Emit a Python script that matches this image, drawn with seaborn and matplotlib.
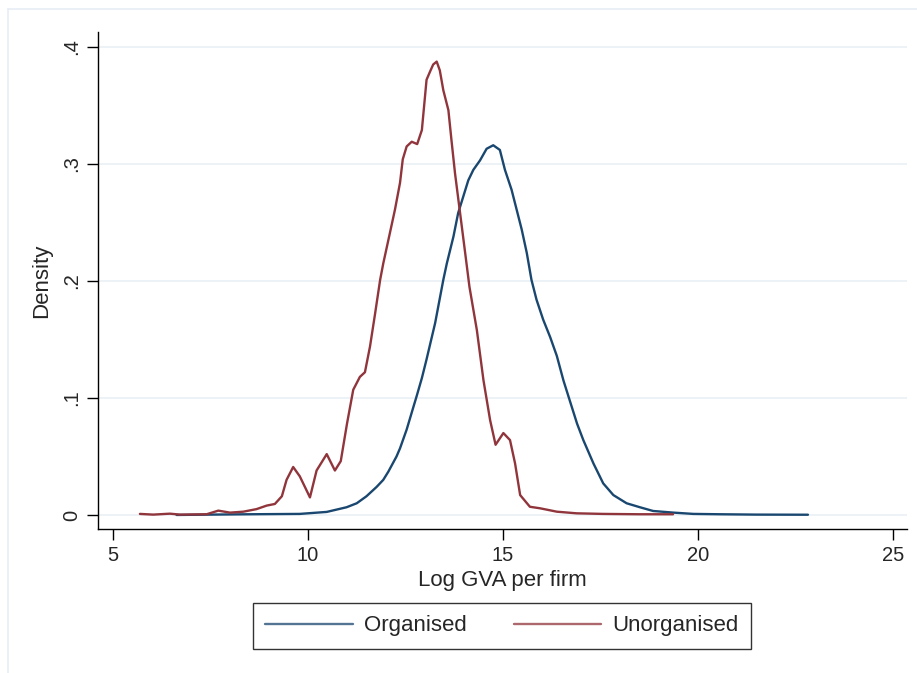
import numpy as np
import pandas as pd
import matplotlib
matplotlib.use("Agg")
import matplotlib.pyplot as plt
import seaborn as sns
from matplotlib.lines import Line2D

# ---- data ----
series_names = ["Organised", "Unorganised"]

organised_x = [6.63, 7.50, 8.50, 9.79, 10.48, 10.99, 11.25, 11.50, 11.76, 11.93,
               12.06, 12.27, 12.36, 12.53, 12.70, 12.79, 12.92, 13.04, 13.26, 13.47,
               13.56, 13.73, 13.85, 13.98, 14.11, 14.24, 14.41, 14.58, 14.75, 14.92,
               15.05, 15.22, 15.35, 15.48, 15.61, 15.73, 15.86, 16.03, 16.21, 16.38,
               16.55, 16.72, 16.90, 17.06, 17.32, 17.57, 17.83, 18.17, 18.51, 18.85,
               19.37, 19.88, 20.56, 21.50, 22.82]
organised_y = [0.0000, 0.0003, 0.0006, 0.0009, 0.0026, 0.0066, 0.0100, 0.0160, 0.0240, 0.0300,
               0.0370, 0.0500, 0.0570, 0.0730, 0.0920, 0.1020, 0.1170, 0.1330, 0.1640, 0.2010,
               0.2150, 0.2380, 0.2580, 0.2720, 0.2860, 0.2950, 0.3030, 0.3130, 0.3160, 0.3120,
               0.2950, 0.2780, 0.2610, 0.2440, 0.2240, 0.2010, 0.1840, 0.1670, 0.1520, 0.1360,
               0.1150, 0.0970, 0.0780, 0.0640, 0.0440, 0.0270, 0.0170, 0.0100, 0.0066, 0.0034,
               0.0020, 0.0009, 0.0006, 0.0003, 0.0002]

unorganised_x = [5.69, 6.03, 6.46, 6.72, 7.40, 7.70, 8.00, 8.34, 8.68, 8.94,
                 9.15, 9.33, 9.45, 9.62, 9.79, 10.05, 10.22, 10.48, 10.69, 10.84,
                 11.00, 11.16, 11.33, 11.46, 11.59, 11.72, 11.85, 11.93, 12.10, 12.23,
                 12.36, 12.43, 12.53, 12.66, 12.80, 12.92, 13.04, 13.13, 13.21, 13.30,
                 13.38, 13.47, 13.60, 13.68, 13.77, 13.90, 14.03, 14.14, 14.33, 14.50,
                 14.67, 14.81, 14.91, 15.01, 15.18, 15.31, 15.44, 15.69, 15.95, 16.38,
                 16.89, 17.56, 18.50, 19.36]
unorganised_y = [0.0009, 0.0003, 0.0011, 0.0003, 0.0006, 0.0037, 0.0020, 0.0028, 0.0050, 0.0080,
                 0.0094, 0.0160, 0.0300, 0.0410, 0.0330, 0.0150, 0.0380, 0.0520, 0.0380, 0.0460,
                 0.0780, 0.1070, 0.1180, 0.1220, 0.1440, 0.1720, 0.2010, 0.2150, 0.2410, 0.2610,
                 0.2840, 0.3040, 0.3150, 0.3190, 0.3170, 0.3290, 0.3720, 0.3790, 0.3850, 0.3875,
                 0.3800, 0.3630, 0.3460, 0.3200, 0.2920, 0.2580, 0.2240, 0.1950, 0.1580, 0.1150,
                 0.0810, 0.0600, 0.0650, 0.0700, 0.0640, 0.0440, 0.0170, 0.0070, 0.0057, 0.0028,
                 0.0014, 0.0009, 0.0006, 0.0006]

x_ticks = [5, 10, 15, 20, 25]
y_ticks = [0, 0.1, 0.2, 0.3, 0.4]
y_tick_labels = ["0", ".1", ".2", ".3", ".4"]

df = pd.concat([
    pd.DataFrame({"x": organised_x, "y": organised_y, "group": series_names[0]}),
    pd.DataFrame({"x": unorganised_x, "y": unorganised_y, "group": series_names[1]}),
], ignore_index=True)

colors = {"Organised": "#1a476f", "Unorganised": "#90353b"}

sns.set_style("white")
plt.rcParams["font.family"] = ["Liberation Sans", "DejaVu Sans"]

fig = plt.figure(figsize=(9.17, 6.73), dpi=100)
fig.patch.set_facecolor("white")
ax = fig.add_axes([98 / 917, 1 - 529 / 673, (907 - 98) / 917, (529 - 32) / 673])

sns.lineplot(data=df, x="x", y="y", hue="group", palette=colors, sort=False,
             estimator=None, linewidth=1.7, ax=ax, legend=False)

ax.set_xlim(4.615, 25.36)
ax.set_ylim(-0.012, 0.4128)
ax.set_xticks(x_ticks)
ax.set_xticklabels([str(t) for t in x_ticks], fontsize=14.5)
ax.set_yticks(y_ticks)
ax.set_yticklabels(y_tick_labels, fontsize=14.5, rotation=90, va="center")
ax.tick_params(axis="both", direction="out", length=8, width=1.0, color="black",
               left=True, bottom=True, pad=4)
for yt in y_ticks:
    ax.axhline(yt, color="#eaf1f4", linewidth=1.3, zorder=0)
ax.grid(False)
for s in ["top", "right"]:
    ax.spines[s].set_visible(False)
for s in ["left", "bottom"]:
    ax.spines[s].set_color("black")
    ax.spines[s].set_linewidth(1.0)

ax.set_xlabel("Log GVA per firm", fontsize=16, labelpad=4)
ax.set_ylabel("Density", fontsize=16, labelpad=7)

# legend
handles = [Line2D([0], [0], color=colors[n], linewidth=1.7, alpha=0.75) for n in series_names]
leg = fig.legend(handles, series_names, loc="center", bbox_to_anchor=(502 / 917, 1 - 626 / 673),
                 ncol=2, frameon=True, fancybox=False, edgecolor="black", fontsize=16,
                 handlelength=3.95, handletextpad=0.5, columnspacing=2.1, borderpad=0.55)
leg.get_frame().set_linewidth(1.0)

# outer graph-region frame (partially cropped in the reference)
fig.add_artist(Line2D([8 / 917, 1.0], [1 - 9 / 673, 1 - 9 / 673], color="#e6edf3",
                      linewidth=1.2, transform=fig.transFigure))
fig.add_artist(Line2D([8 / 917, 8 / 917], [0, 1 - 9 / 673], color="#e6edf3",
                      linewidth=1.2, transform=fig.transFigure))

fig.savefig("out.png", dpi=100, facecolor="white")
